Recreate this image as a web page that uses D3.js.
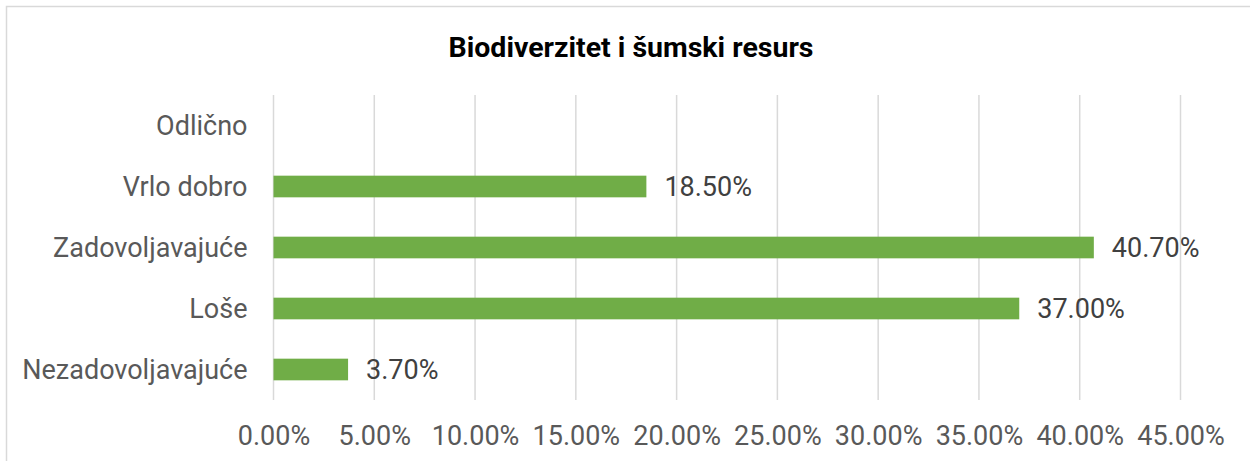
<!DOCTYPE html>
<html>
<head>
<meta charset="utf-8">
<script src="https://cdn.jsdelivr.net/npm/d3@7"></script>
<style>
  html, body { margin: 0; padding: 0; background: #fff; }
  svg { display: block; }
  text { font-family: Roboto, "Noto Sans", sans-serif; }
</style>
</head>
<body>
<svg id="chart" width="1250" height="461"></svg>
<script>
const title = "Biodiverzitet i šumski resurs";
const categories = ["Odlično", "Vrlo dobro", "Zadovoljavajuće", "Loše", "Nezadovoljavajuće"];
const values = [null, 18.5, 40.7, 37.0, 3.7];
const tickValues = [0, 5, 10, 15, 20, 25, 30, 35, 40, 45];

const svg = d3.select("#chart");
const W = 1250, H = 461;
const plot = { left: 273.5, right: 1180.5, top: 95, bottom: 400 };

// chart border
svg.append("rect")
  .attr("x", 6.5).attr("y", 6.5)
  .attr("width", W).attr("height", H)
  .attr("fill", "#fff").attr("stroke", "#D9D9D9").attr("stroke-width", 1.5);

const x = d3.scaleLinear().domain([0, 45]).range([plot.left, plot.right]);
const y = d3.scaleBand().domain(categories).range([plot.top, plot.bottom])
  .paddingInner(0.645).paddingOuter(0.3225);

// gridlines
svg.append("g").selectAll("line").data(tickValues).join("line")
  .attr("x1", d => x(d)).attr("x2", d => x(d))
  .attr("y1", plot.top).attr("y2", plot.bottom)
  .attr("stroke", "#D9D9D9").attr("stroke-width", 1.5);

// x axis labels
const xAxis = d3.axisBottom(x).tickValues(tickValues)
  .tickFormat(d => d.toFixed(2) + "%").tickSize(0).tickPadding(0);
const gx = svg.append("g").attr("transform", `translate(0, ${plot.bottom})`).call(xAxis);
gx.select(".domain").remove();
gx.selectAll("text")
  .attr("dy", null).attr("y", 44.5)
  .attr("font-size", 27).attr("font-family", "Roboto, sans-serif")
  .attr("fill", "#595959");

// y axis labels
const yAxis = d3.axisLeft(y).tickSize(0).tickPadding(0);
const gy = svg.append("g").attr("transform", `translate(${plot.left - 26}, 0)`).call(yAxis);
gy.select(".domain").remove();
gy.selectAll("text")
  .attr("dy", "0.36em")
  .attr("font-size", 27).attr("font-family", "Roboto, sans-serif")
  .attr("fill", "#595959");

// bars
const data = categories.map((c, i) => ({ c, v: values[i] })).filter(d => d.v != null);
svg.append("g").selectAll("rect").data(data).join("rect")
  .attr("x", x(0)).attr("y", d => y(d.c))
  .attr("width", d => x(d.v) - x(0)).attr("height", y.bandwidth())
  .attr("fill", "#70AD47");

// value labels
svg.append("g").selectAll("text").data(data).join("text")
  .attr("x", d => x(d.v) + 18)
  .attr("y", d => y(d.c) + y.bandwidth() / 2)
  .attr("dy", "0.36em")
  .attr("font-size", 27)
  .attr("fill", "#404040")
  .text(d => d.v.toFixed(2) + "%");

// title
svg.append("text")
  .attr("x", 631).attr("y", 57)
  .attr("text-anchor", "middle")
  .attr("font-size", 28.5).attr("font-weight", "bold")
  .attr("fill", "#000")
  .text(title);
</script>
</body>
</html>
